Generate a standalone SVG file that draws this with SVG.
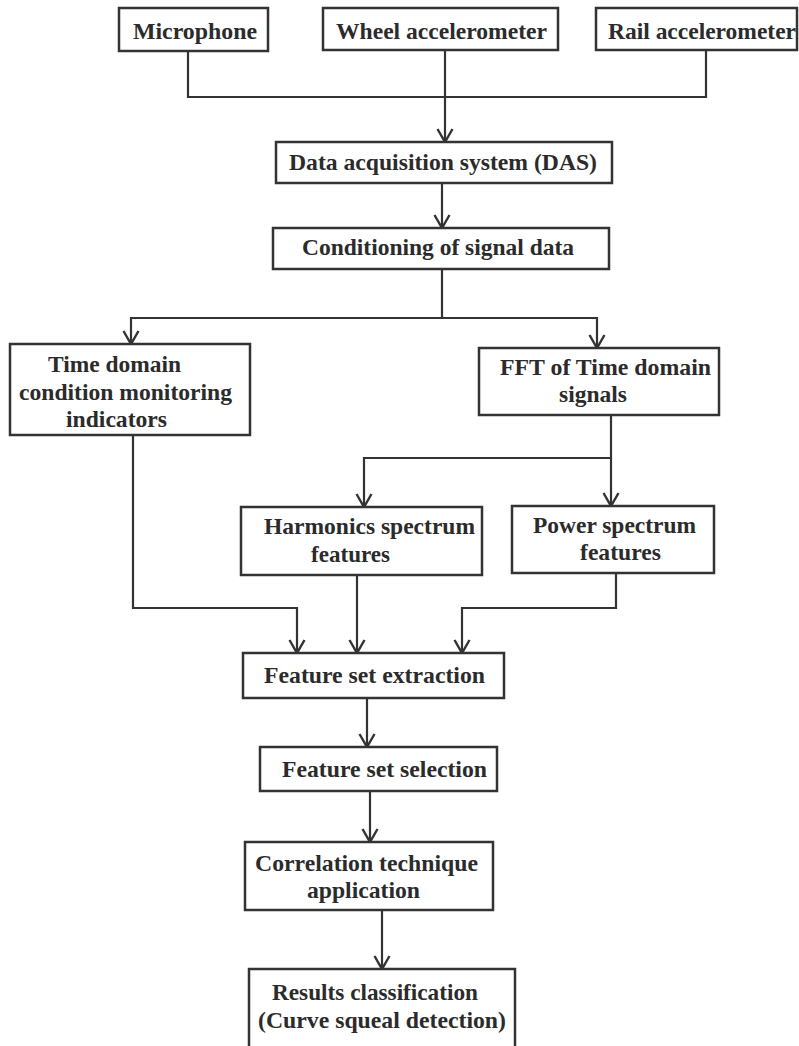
<svg xmlns="http://www.w3.org/2000/svg" width="799" height="1046" viewBox="0 0 799 1046">
<style>
.box{fill:#fff;stroke:#333;stroke-width:2.5}
.t{font-family:"Liberation Serif","Times New Roman",serif;font-weight:bold;font-size:24px;fill:#2b2b2b}
.c{fill:none;stroke:#333;stroke-width:2.2}
</style>
<defs>
<marker id="ah" markerUnits="userSpaceOnUse" markerWidth="30" markerHeight="30" refX="0" refY="0" orient="auto" overflow="visible">
<path d="M-13,-7.5 L0,0 L-13,7.5" fill="none" stroke="#333" stroke-width="2.4"/>
</marker>
</defs>
<rect width="799" height="1046" fill="#fff"/>
<g id="connectors">
<path class="c" d="M188,51 V97 H706 V50"/>
<path class="c" d="M445,50 V142" marker-end="url(#ah)"/>
<path class="c" d="M442,183 V228" marker-end="url(#ah)"/>
<path class="c" d="M442,269 V318 H131 V344" marker-end="url(#ah)"/>
<path class="c" d="M442,318 H597 V348" marker-end="url(#ah)"/>
<path class="c" d="M611,415 V458 H364 V507" marker-end="url(#ah)"/>
<path class="c" d="M611,458 V506" marker-end="url(#ah)"/>
<path class="c" d="M133,435 V608 H297 V653" marker-end="url(#ah)"/>
<path class="c" d="M357,575 V653" marker-end="url(#ah)"/>
<path class="c" d="M616,573 V608 H462 V653" marker-end="url(#ah)"/>
<path class="c" d="M367,698 V747" marker-end="url(#ah)"/>
<path class="c" d="M370,791 V842" marker-end="url(#ah)"/>
<path class="c" d="M382,910 V969" marker-end="url(#ah)"/>
</g>
<g id="microphone"><rect class="box" x="119" y="8" width="149" height="43"/><text class="t" x="133" y="39" textLength="124" lengthAdjust="spacingAndGlyphs">Microphone</text></g>
<g id="wheel"><rect class="box" x="323" y="8" width="235" height="42"/><text class="t" x="336" y="39" textLength="211" lengthAdjust="spacingAndGlyphs">Wheel accelerometer</text></g>
<g id="rail"><rect class="box" x="596" y="8" width="201" height="42"/><text class="t" x="608" y="39" textLength="188" lengthAdjust="spacingAndGlyphs">Rail accelerometer</text></g>
<g id="das"><rect class="box" x="276" y="142" width="336" height="41"/><text class="t" x="289" y="170" textLength="308" lengthAdjust="spacingAndGlyphs">Data acquisition system (DAS)</text></g>
<g id="conditioning"><rect class="box" x="273" y="228" width="336" height="41"/><text class="t" x="302" y="255" textLength="272" lengthAdjust="spacingAndGlyphs">Conditioning of signal data</text></g>
<g id="timedomain"><rect class="box" x="10" y="344" width="240" height="91"/>
<text class="t" x="48" y="372" textLength="133" lengthAdjust="spacingAndGlyphs">Time domain</text>
<text class="t" x="19" y="400" textLength="213" lengthAdjust="spacingAndGlyphs">condition monitoring</text>
<text class="t" x="66" y="427" textLength="101" lengthAdjust="spacingAndGlyphs">indicators</text></g>
<g id="fft"><rect class="box" x="479" y="348" width="240" height="67"/>
<text class="t" x="500" y="375" textLength="211" lengthAdjust="spacingAndGlyphs">FFT of Time domain</text>
<text class="t" x="559" y="402" textLength="68" lengthAdjust="spacingAndGlyphs">signals</text></g>
<g id="harmonics"><rect class="box" x="241" y="507" width="241" height="68"/>
<text class="t" x="264" y="534" textLength="211" lengthAdjust="spacingAndGlyphs">Harmonics spectrum</text>
<text class="t" x="311" y="562" textLength="79" lengthAdjust="spacingAndGlyphs">features</text></g>
<g id="power"><rect class="box" x="512" y="506" width="202" height="67"/>
<text class="t" x="533" y="533" textLength="163" lengthAdjust="spacingAndGlyphs">Power spectrum</text>
<text class="t" x="580" y="560" textLength="81" lengthAdjust="spacingAndGlyphs">features</text></g>
<g id="extraction"><rect class="box" x="243" y="653" width="261" height="45"/><text class="t" x="264" y="683" textLength="221" lengthAdjust="spacingAndGlyphs">Feature set extraction</text></g>
<g id="selection"><rect class="box" x="260" y="747" width="237" height="44"/><text class="t" x="282" y="777" textLength="205" lengthAdjust="spacingAndGlyphs">Feature set selection</text></g>
<g id="correlation"><rect class="box" x="245" y="842" width="248" height="68"/>
<text class="t" x="255" y="871" textLength="223" lengthAdjust="spacingAndGlyphs">Correlation technique</text>
<text class="t" x="307" y="898" textLength="113" lengthAdjust="spacingAndGlyphs">application</text></g>
<g id="results"><rect class="box" x="249" y="969" width="266" height="95"/>
<text class="t" x="272" y="1000" textLength="206" lengthAdjust="spacingAndGlyphs">Results classification</text>
<text class="t" x="258" y="1028" textLength="248" lengthAdjust="spacingAndGlyphs">(Curve squeal detection)</text></g>
</svg>
